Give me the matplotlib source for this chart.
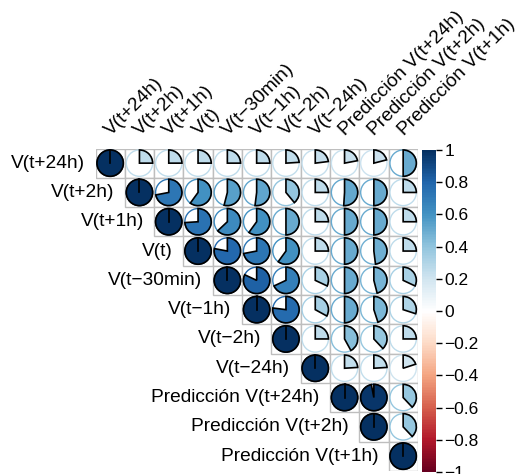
import numpy as np
import matplotlib
matplotlib.use("Agg")
import matplotlib.pyplot as plt
from matplotlib.colors import LinearSegmentedColormap, Normalize
from matplotlib.patches import Wedge, Circle, Rectangle
from matplotlib.cm import ScalarMappable

plt.rcParams["font.family"] = ["Liberation Sans", "DejaVu Sans"]

labels = ["V(t+24h)", "V(t+2h)", "V(t+1h)", "V(t)", "V(t\u221230min)",
          "V(t\u22121h)", "V(t\u22122h)", "V(t\u221224h)",
          "Predicción V(t+24h)", "Predicción V(t+2h)", "Predicción V(t+1h)"]

# upper triangle of the correlation matrix, row by row (diagonal first)
upper_rows = [
    [1.00, 0.25, 0.25, 0.25, 0.25, 0.25, 0.24, 0.23, 0.22, 0.21, 0.50],
    [1.00, 0.72, 0.60, 0.54, 0.52, 0.39, 0.25, 0.51, 0.50, 0.25],
    [1.00, 0.74, 0.63, 0.60, 0.50, 0.25, 0.50, 0.50, 0.25],
    [1.00, 0.78, 0.72, 0.60, 0.25, 0.50, 0.48, 0.25],
    [1.00, 0.82, 0.68, 0.32, 0.50, 0.46, 0.32],
    [1.00, 0.77, 0.33, 0.50, 0.45, 0.30],
    [1.00, 0.25, 0.42, 0.38, 0.25],
    [1.00, 0.24, 0.24, 0.20],
    [1.00, 0.97, 0.38],
    [1.00, 0.38],
    [1.00],
]

cbar_ticks = [1, 0.8, 0.6, 0.4, 0.2, 0, -0.2, -0.4, -0.6, -0.8, -1]

n = len(labels)
corr = np.full((n, n), np.nan)
for i, row in enumerate(upper_rows):
    corr[i, i:] = row

rdbu = ["#67001F", "#B2182B", "#D6604D", "#F4A582", "#FDDBC7", "#FFFFFF",
        "#D1E5F0", "#92C5DE", "#4393C3", "#2166AC", "#053061"]
cmap = LinearSegmentedColormap.from_list("corr_rdbu", rdbu, N=200)
norm = Normalize(-1, 1)

W, H = 517, 474
fig = plt.figure(figsize=(W / 100, H / 100), dpi=100)

# grid area in pixels
gx0, gy0, cs = 95.5, 148.5, 29.3
gw = cs * n
ax = fig.add_axes([gx0 / W, (H - gy0 - gw) / H, gw / W, gw / H])
ax.set_xlim(-0.5, n - 0.5)
ax.set_ylim(n - 0.5, -0.5)
ax.axis("off")

rad = 0.45
for i in range(n):
    for j in range(i, n):
        r = corr[i, j]
        col = cmap(norm(r))
        ax.add_patch(Rectangle((j - 0.5, i - 0.5), 1, 1, facecolor="white",
                               edgecolor="#BEBEBE", lw=1.0, zorder=1))
        ax.add_patch(Circle((j, i), rad, facecolor="white", edgecolor=col,
                            lw=1.0, zorder=2))
        ang = 360 * abs(r)
        # y axis is inverted, so counter-clockwise in data = clockwise on screen
        ax.add_patch(Wedge((j, i), rad, 270, 270 + ang, facecolor=col,
                           edgecolor="black", lw=1.2, zorder=3))
        if ang >= 359.9:
            ax.plot([j, j], [i, i - rad], color="black", lw=1.2, zorder=4)

# row labels to the left of the diagonal
for i, lab in enumerate(labels):
    ax.text(i - 0.5 - 0.35, i, lab, ha="right", va="center", fontsize=13.8,
            clip_on=False)

# column labels on top, rotated
for j, lab in enumerate(labels):
    ax.text(j + 0.02, -0.5 - 0.42, lab, ha="left", va="baseline",
            rotation=45, rotation_mode="anchor", fontsize=13.8, clip_on=False)

# colour legend
cax = fig.add_axes([422 / W, (H - 472) / H, 14 / W, 322 / H])
sm = ScalarMappable(norm=norm, cmap=cmap)
cb = fig.colorbar(sm, cax=cax, ticks=cbar_ticks)
cb.outline.set_visible(False)
cb.ax.set_yticklabels([("%g" % t).replace("-", "\u2212") for t in cbar_ticks])
cb.ax.tick_params(length=4, width=1, labelsize=12.5, pad=2)

fig.savefig("out.png", dpi=100)
